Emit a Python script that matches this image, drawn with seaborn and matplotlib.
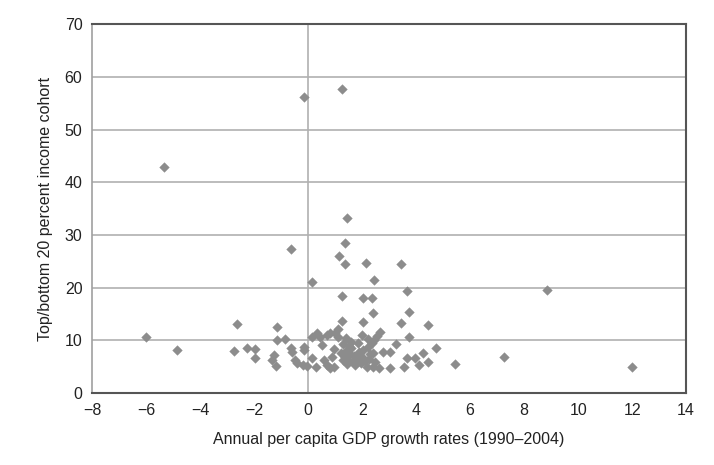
import numpy as np
import pandas as pd
import matplotlib
matplotlib.use("Agg")
import matplotlib.pyplot as plt
import seaborn as sns

# growth rate (x) and top/bottom 20% ratio (y)
growth = [
    -6.0, -4.85, -5.35, -2.65, -2.75, -2.25, -1.95, -1.95, -1.15, -1.15,
    -1.25, -1.35, -1.2, -0.85, -0.65, -0.65, -0.6, -0.5, -0.42, -0.15,
    -0.15, -0.2, -0.05, -0.15,
    0.15, 0.14, 0.32, 0.45, 0.5, 0.15, 0.7, 0.8, 0.57, 0.7,
    0.8, 0.88, 0.94, 1.0, 0.94, 0.3,
    1.25, 1.45, 1.35, 1.15, 1.35, 2.15, 2.45, 1.25, 2.05, 2.35,
    1.25, 2.05, 2.42, 1.12, 1.12, 2.0, 2.65, 2.55, 2.45, 2.35,
    2.2, 2.05, 1.3, 1.5, 1.6, 1.4, 1.2, 1.35, 1.55, 1.7,
    1.8, 1.9, 2.0, 1.3, 1.5, 1.65, 1.45, 1.75, 1.95, 2.1,
    2.25, 2.3, 2.42, 2.48, 2.42, 2.17, 2.64, 2.78, 1.6, 1.85,
    2.2, 1.4,
    3.44, 3.65, 3.75, 3.44, 4.45, 3.75, 3.26, 3.04, 4.74, 3.65,
    3.96, 4.25, 4.43, 4.12, 3.56, 3.04, 5.44, 7.26, 8.85, 12.0,
]
ratio = [
    10.6, 8.2, 42.8, 13.1, 8.0, 8.5, 8.3, 6.7, 12.6, 10.1,
    7.2, 6.2, 5.2, 10.3, 27.3, 8.5, 7.8, 6.3, 5.6, 8.8,
    8.1, 5.3, 5.1, 56.2,
    21.0, 10.7, 11.4, 10.7, 9.1, 6.6, 11.0, 11.3, 6.3, 5.3,
    4.7, 6.9, 8.3, 11.3, 5.0, 5.0,
    57.7, 33.3, 28.5, 26.0, 24.4, 24.6, 21.5, 18.4, 18.1, 18.1,
    13.7, 13.4, 15.1, 12.1, 10.7, 11.0, 11.6, 10.8, 10.0, 9.4,
    8.8, 8.2, 9.3, 9.0, 8.5, 8.0, 7.5, 6.9, 7.3, 7.0,
    6.4, 7.7, 6.8, 6.2, 6.0, 5.8, 5.5, 5.3, 5.6, 6.1,
    6.5, 7.3, 7.5, 5.9, 5.0, 5.0, 4.7, 7.8, 9.7, 9.4,
    10.2, 10.5,
    24.5, 19.4, 15.3, 13.3, 12.8, 10.7, 9.3, 7.8, 8.6, 6.6,
    6.6, 7.5, 5.8, 5.3, 5.0, 4.8, 5.5, 6.8, 19.5, 4.9,
]

df = pd.DataFrame({"growth": growth, "ratio": ratio})

sns.set_style("white")
plt.rcParams["font.family"] = ["Liberation Sans", "DejaVu Sans"]

fig = plt.figure(figsize=(7.14, 4.65), dpi=100)
ax = fig.add_axes([0.129, 0.155, 0.832, 0.793])

# grid lines drawn first so points sit on top
for yv in range(10, 70, 10):
    ax.axhline(yv, color="#b0b0b0", linewidth=1.2, zorder=0)
ax.axvline(0, color="#b0b0b0", linewidth=1.2, zorder=0)

sns.scatterplot(data=df, x="growth", y="ratio", marker="D", s=24,
                color="#8c8c8c", edgecolor="#8c8c8c", linewidth=0.3,
                ax=ax, zorder=3)

ax.set_xlim(-8, 14)
ax.set_ylim(0, 70)
ax.set_xticks(range(-8, 15, 2))
ax.set_yticks(range(0, 71, 10))
ax.set_xticklabels([str(t).replace("-", "\u2212") for t in range(-8, 15, 2)])
ax.tick_params(axis="both", length=0, labelsize=11.5, colors="#222222", pad=7)

ax.set_xlabel("Annual per capita GDP growth rates (1990\u20132004)", fontsize=11.5,
              color="#222222", labelpad=10)
ax.set_ylabel("Top/bottom 20 percent income cohort", fontsize=11.5,
              color="#222222", labelpad=8)

for side in ["top", "right", "bottom"]:
    ax.spines[side].set_color("#555555")
    ax.spines[side].set_linewidth(1.5)
    ax.spines[side].set_visible(True)
ax.spines["left"].set_color("#a0a0a0")
ax.spines["left"].set_linewidth(1.2)
ax.spines["left"].set_visible(True)

fig.savefig("out.png", dpi=100)
plt.close(fig)
